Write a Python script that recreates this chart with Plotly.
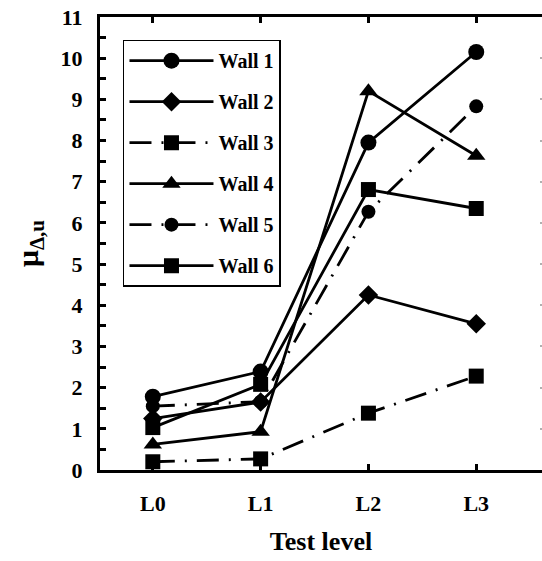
import plotly.graph_objects as go

# Test levels on the horizontal axis
levels = ["L0", "L1", "L2", "L3"]

# Ultimate displacement ductility per wall at each test level
wall_1 = [1.78, 2.39, 7.95, 10.15]
wall_2 = [1.25, 1.65, 4.25, 3.55]
wall_3 = [0.20, 0.27, 1.38, 2.28]
wall_4 = [0.62, 0.93, 9.20, 7.63]
wall_5 = [1.55, 1.66, 6.27, 8.83]
wall_6 = [1.03, 2.08, 6.81, 6.35]

wall_names = ["Wall 1", "Wall 2", "Wall 3", "Wall 4", "Wall 5", "Wall 6"]
y_ticks = list(range(0, 12))

FONT = "Liberation Serif"
DASHDOT = "22px,10px,2px,10px"

series = [
    (wall_names[0], wall_1, "circle", 16, "solid"),
    (wall_names[1], wall_2, "diamond", 15, "solid"),
    (wall_names[2], wall_3, "square", 15, DASHDOT),
    (wall_names[3], wall_4, "triangle-up", 16, "solid"),
    (wall_names[4], wall_5, "circle", 14, DASHDOT),
    (wall_names[5], wall_6, "square", 15, "solid"),
]

fig = go.Figure()
for i, (name, vals, sym, size, dash) in enumerate(series):
    fig.add_trace(go.Scatter(
        x=levels, y=vals, name=name, mode="lines+markers",
        line=dict(color="black", width=2.8, dash=dash),
        marker=dict(symbol=sym, size=size, color="black"),
        cliponaxis=False, legendgroup=f"g{i}",
    ))

# empty trace carrying the right-hand tick marks
fig.add_trace(go.Scatter(x=[], y=[], yaxis="y2", showlegend=False, hoverinfo="skip"))

fig.update_layout(
    width=542, height=561,
    margin=dict(l=100, r=0, t=17, b=91),
    paper_bgcolor="white", plot_bgcolor="white",
    font=dict(family=FONT, color="black", size=20, weight="bold"),
    showlegend=True,
    legend=dict(
        x=0.052, y=0.950, xanchor="left", yanchor="top",
        bgcolor="white", bordercolor="black", borderwidth=1.5,
        font=dict(family=FONT, size=20, color="black", weight="bold"),
        traceorder="grouped", tracegroupgap=12, itemwidth=84,
    ),
    xaxis=dict(
        type="category", categoryorder="array", categoryarray=levels,
        range=[-0.49, 3.61],
        showline=True, linecolor="black", linewidth=3, mirror="ticks",
        ticks="inside", ticklen=6, tickwidth=3, tickcolor="black",
        showgrid=False, zeroline=False,
        tickfont=dict(family=FONT, size=22, weight="bold"),
        ticklabelstandoff=12,
        title=dict(text="Test level", font=dict(family=FONT, size=26, weight="bold"), standoff=17),
    ),
    yaxis=dict(
        range=[0, 11], tickvals=y_ticks,
        showline=True, linecolor="black", linewidth=3,
        ticks="inside", ticklen=6, tickwidth=3, tickcolor="black",
        minor=dict(dtick=0.5, ticks="inside", ticklen=6, tickwidth=3, tickcolor="black"),
        showgrid=False, zeroline=False,
        tickfont=dict(family=FONT, size=22, weight="bold"),
        ticklabelstandoff=10,
        title=dict(text="μ<sub>Δ,u</sub>", font=dict(family=FONT, size=30, weight="bold"), standoff=14),
    ),
    yaxis2=dict(
        overlaying="y", side="right", range=[0, 11], tickvals=y_ticks[1:-1],
        showline=False, showgrid=False, zeroline=False, showticklabels=False,
        ticks="inside", ticklen=2, tickwidth=2, tickcolor="#b0b0b0",
    ),
)

fig.write_html("out.html")
